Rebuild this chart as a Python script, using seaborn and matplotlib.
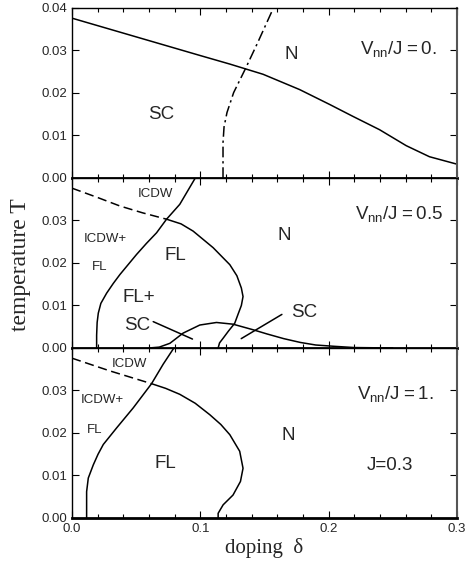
import numpy as np
import pandas as pd
import matplotlib
matplotlib.use("Agg")
import matplotlib.pyplot as plt
import seaborn as sb
from matplotlib.ticker import MultipleLocator

# ---- data (doping delta, temperature T) ----
# panel 1: Vnn/J = 0
sc_top_d = [0.0, 0.025, 0.05, 0.075, 0.1, 0.123, 0.1489, 0.1774, 0.2008, 0.2189, 0.2397, 0.2605, 0.2786, 0.2994, 0.3]
sc_top_t = [0.0376, 0.0354, 0.0332, 0.0310, 0.0288, 0.0268, 0.0244, 0.0208, 0.0173, 0.0145, 0.01136, 0.0076, 0.0050, 0.0033, 0.0033]
dd_top_d = [0.1177, 0.1177, 0.1185, 0.1208, 0.126, 0.135, 0.1442, 0.157]
dd_top_t = [0.0, 0.0083, 0.0120, 0.0154, 0.0201, 0.0256, 0.0315, 0.04]

# panel 2: Vnn/J = 0.5
icdw_mid_d = [0.0, 0.02, 0.0374, 0.055, 0.0737]
icdw_mid_t = [0.0376, 0.0354, 0.0334, 0.0318, 0.0303]
fl_mid_d = [0.0737, 0.085, 0.0944, 0.11, 0.123, 0.1285, 0.132, 0.1333, 0.132, 0.1295, 0.1268, 0.122, 0.1178, 0.115, 0.1139]
fl_mid_t = [0.0303, 0.0292, 0.0275, 0.0236, 0.0196, 0.0170, 0.0141, 0.0121, 0.0100, 0.0080, 0.0058, 0.0040, 0.0023, 0.0012, 0.0]
left_mid_d = [0.0192, 0.0192, 0.0196, 0.0205, 0.0225, 0.027, 0.0322, 0.0374, 0.0503, 0.058, 0.0659, 0.0737, 0.084, 0.0961]
left_mid_t = [0.0, 0.003, 0.006, 0.0082, 0.0105, 0.0129, 0.0152, 0.0173, 0.0220, 0.0246, 0.0271, 0.0303, 0.0338, 0.04]
dome_d = [0.060, 0.068, 0.0763, 0.0866, 0.0996, 0.1126, 0.1255, 0.141, 0.152, 0.165, 0.178, 0.19, 0.204, 0.22, 0.25]
dome_t = [0.0, 0.0002, 0.0011, 0.0035, 0.0054, 0.0060, 0.0056, 0.0043, 0.0033, 0.0022, 0.0013, 0.0007, 0.0004, 0.0001, 0.0]
ptr_left_d = [0.0633, 0.0939]
ptr_left_t = [0.0062, 0.0021]
ptr_right_d = [0.1319, 0.1636]
ptr_right_t = [0.0022, 0.0079]

# panel 3: Vnn/J = 1
icdw_bot_d = [0.0, 0.0296, 0.062]
icdw_bot_t = [0.0376, 0.0346, 0.0316]
fl_bot_d = [0.062, 0.073, 0.084, 0.096, 0.1074, 0.116, 0.123, 0.1307, 0.1333, 0.1313, 0.1255, 0.1178, 0.1139, 0.1139]
fl_bot_t = [0.0316, 0.0305, 0.0291, 0.0270, 0.0243, 0.0220, 0.0196, 0.0157, 0.0117, 0.0086, 0.0054, 0.0031, 0.0011, 0.0]
left_bot_d = [0.0114, 0.0114, 0.0127, 0.0166, 0.0203, 0.0244, 0.0348, 0.0477, 0.062, 0.0711, 0.0794]
left_bot_t = [0.0, 0.0062, 0.0094, 0.0125, 0.0150, 0.0173, 0.0212, 0.0259, 0.0316, 0.0362, 0.04]

x_ticks = [0.0, 0.1, 0.2, 0.3]
x_ticklabels = ["0.0", "0.1", "0.2", "0.3"]
y_ticks = [0.0, 0.01, 0.02, 0.03, 0.04]
y_ticklabels_top = ["0.00", "0.01", "0.02", "0.03", "0.04"]
y_ticklabels_rest = ["0.00", "0.01", "0.02", "0.03", ""]

# ---- style ----
sb.set_style("ticks")
plt.rcParams["font.family"] = ["Liberation Sans", "DejaVu Sans"]
plt.rcParams["mathtext.fontset"] = "custom"
plt.rcParams["mathtext.rm"] = "Liberation Sans"
plt.rcParams["xtick.direction"] = "in"
plt.rcParams["ytick.direction"] = "in"

fig = plt.figure(figsize=(4.66, 5.65), dpi=100)
L, W, H = 0.1545, 0.826, 0.3009
ax_top = fig.add_axes([L, 0.685, W, H])
ax_mid = fig.add_axes([L, 0.3841, W, H])
ax_bot = fig.add_axes([L, 0.0832, W, H])

lw = 1.1


def curve(ax, xs, ys, dashes=None):
    sb.lineplot(x=xs, y=ys, ax=ax, sort=False, estimator=None, color="black", lw=lw)
    if dashes:
        ax.lines[-1].set_dashes(dashes)


# panel 1
curve(ax_top, sc_top_d, sc_top_t)
curve(ax_top, dd_top_d, dd_top_t, dashes=[7, 2.5, 1.5, 2.5])

# panel 2
curve(ax_mid, icdw_mid_d, icdw_mid_t, dashes=[6, 3])
curve(ax_mid, fl_mid_d, fl_mid_t)
curve(ax_mid, left_mid_d, left_mid_t)
curve(ax_mid, dome_d, dome_t)
curve(ax_mid, ptr_left_d, ptr_left_t)
curve(ax_mid, ptr_right_d, ptr_right_t)

# panel 3
curve(ax_bot, icdw_bot_d, icdw_bot_t, dashes=[6, 3])
curve(ax_bot, fl_bot_d, fl_bot_t)
curve(ax_bot, left_bot_d, left_bot_t)

big = 13.5
small = 9.5
vsize = 13.5

def lab(ax, x, y, s, size):
    ax.text(x, y, s, fontsize=size, ha="center", va="center")

lab(ax_top, 0.0694, 0.0150, "SC", big)
lab(ax_top, 0.171, 0.0291, "N", big)
lab(ax_top, 0.2545, 0.0303, r"$\mathrm{V_{nn}/J=0.}$", vsize)

lab(ax_mid, 0.0649, 0.0363, "ICDW", small)
lab(ax_mid, 0.026, 0.0257, "ICDW+", small)
lab(ax_mid, 0.0213, 0.0190, "FL", small)
lab(ax_mid, 0.0805, 0.0217, "FL", big)
lab(ax_mid, 0.1655, 0.0264, "N", big)
lab(ax_mid, 0.052, 0.0118, "FL+", big)
lab(ax_mid, 0.0506, 0.0053, "SC", big)
lab(ax_mid, 0.181, 0.0083, "SC", big)
lab(ax_mid, 0.2545, 0.0316, r"$\mathrm{V_{nn}/J=0.5}$", vsize)

lab(ax_bot, 0.0446, 0.0362, "ICDW", small)
lab(ax_bot, 0.0239, 0.0277, "ICDW+", small)
lab(ax_bot, 0.0179, 0.0208, "FL", small)
lab(ax_bot, 0.0724, 0.0129, "FL", big)
lab(ax_bot, 0.1688, 0.0195, "N", big)
lab(ax_bot, 0.2475, 0.0124, "J=0.3", big)
lab(ax_bot, 0.252, 0.0291, r"$\mathrm{V_{nn}/J=1.}$", vsize)

for ax in (ax_top, ax_mid, ax_bot):
    ax.set_xlim(0, 0.3)
    ax.set_ylim(0, 0.04)
    ax.set_xticks(x_ticks)
    ax.xaxis.set_minor_locator(MultipleLocator(0.02))
    ax.set_yticks(y_ticks)
    ax.tick_params(which="both", top=True, right=True, labelsize=9.5, width=0.8, color="black")
    ax.tick_params(which="major", length=5)
    ax.tick_params(which="minor", length=3)
    for s in ax.spines.values():
        s.set_linewidth(1.0)
        s.set_color("black")
    ax.spines["bottom"].set_linewidth(2.0)
    ax.spines["right"].set_color("#555555")
    ax.spines["right"].set_linewidth(1.5)
    ax.set_xlabel("")
    ax.set_ylabel("")

ax_top.set_yticklabels(y_ticklabels_top)
ax_mid.set_yticklabels(y_ticklabels_rest)
ax_bot.set_yticklabels(y_ticklabels_rest)
ax_top.set_xticklabels([])
ax_mid.set_xticklabels([])
ax_bot.set_xticklabels(x_ticklabels)

ax_bot.set_xlabel("doping  δ", family="Liberation Serif", fontsize=15, labelpad=2)
fig.text(0.043, 0.531, "temperature T", family="Liberation Serif", fontsize=17,
         rotation=90, ha="center", va="center")

fig.savefig("out.png", dpi=100)
